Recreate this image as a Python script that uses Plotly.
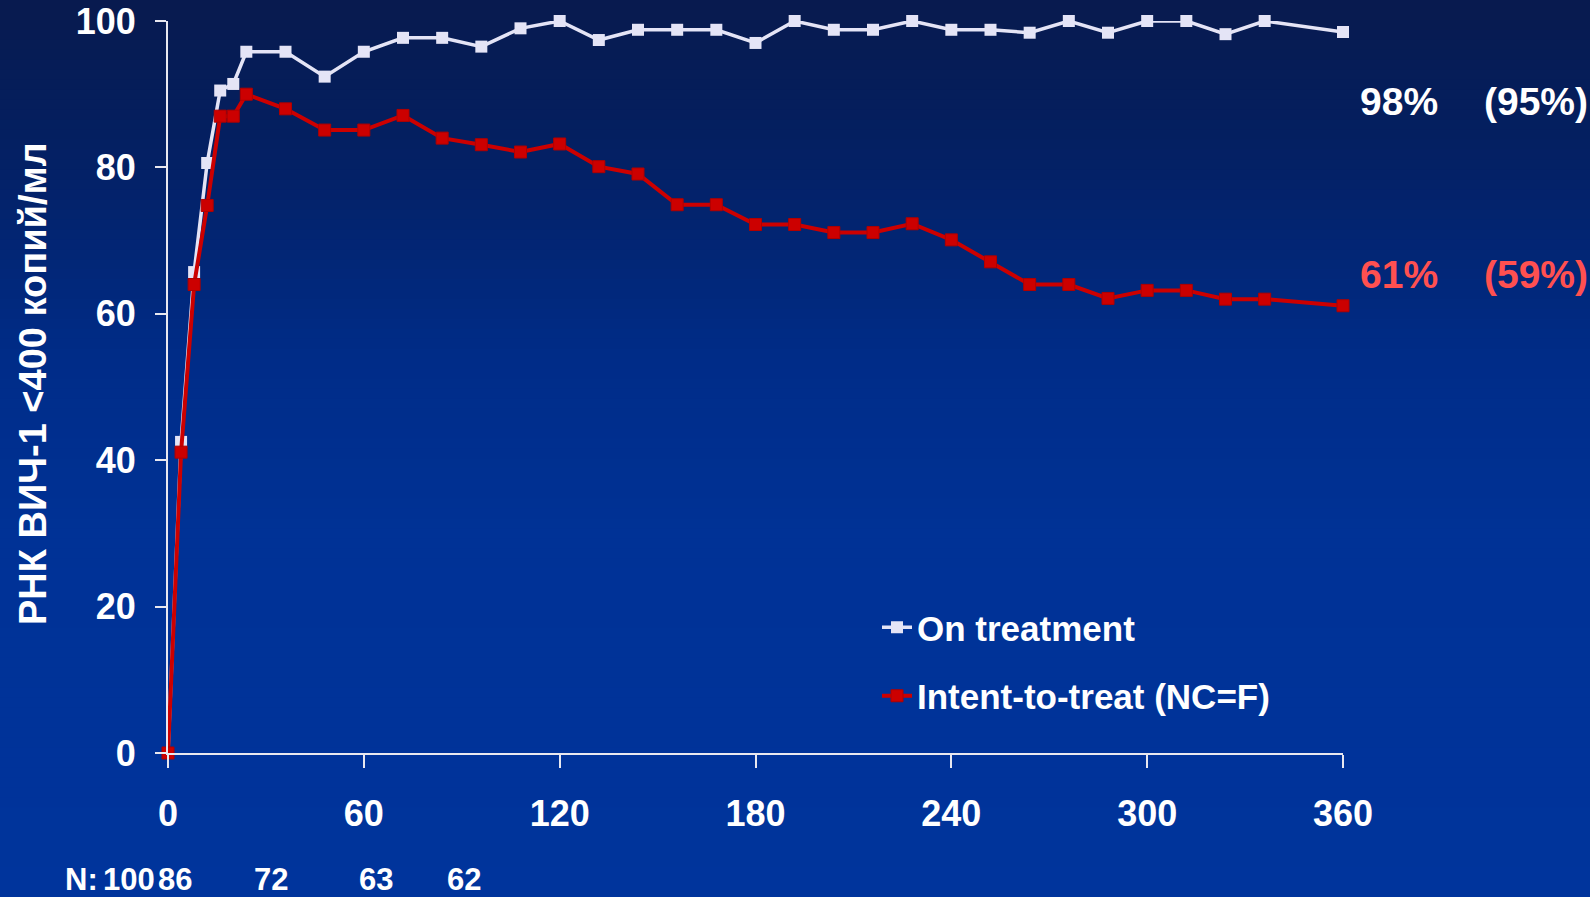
import plotly.graph_objects as go

# ------------------------------------------------------------
# DATA
# ------------------------------------------------------------
DAYS = [0, 4, 8, 12, 16, 20, 24, 36, 48, 60, 72, 84, 96, 108, 120, 132, 144,
        156, 168, 180, 192, 204, 216, 228, 240, 252, 264, 276, 288, 300, 312,
        324, 336, 360]

ON_TREATMENT = [0, 42.5, 65.7, 80.6, 90.5, 91.4, 95.8, 95.8, 92.4, 95.8, 97.7,
                97.7, 96.5, 99.0, 100, 97.4, 98.8, 98.8, 98.8, 97.0, 100, 98.8,
                98.8, 100, 98.8, 98.8, 98.4, 100, 98.4, 100, 100, 98.2, 100, 98.5]

INTENT_TO_TREAT = [0, 41.1, 64.0, 74.8, 87.0, 87.0, 90.0, 88.0, 85.1, 85.1, 87.1,
                   84.0, 83.1, 82.1, 83.2, 80.1, 79.1, 74.9, 74.9, 72.2, 72.2, 71.1,
                   71.1, 72.3, 70.1, 67.1, 64.0, 64.0, 62.1, 63.2, 63.2, 62.0, 62.0, 61.1]

X_TICKS = [0, 60, 120, 180, 240, 300, 360]
Y_TICKS = [0, 20, 40, 60, 80, 100]

SERIES_NAMES = ["On treatment", "Intent-to-treat (NC=F)"]
END_LABELS_ON = ["98%", "(95%)"]
END_LABELS_ITT = ["61%", "(59%)"]
N_COUNTS = ["100", "86", "72", "63", "62"]

Y_TITLE = "РНК ВИЧ-1 <400 копий/мл"

# ------------------------------------------------------------
# STYLE / GEOMETRY
# ------------------------------------------------------------
W, H = 1590, 897
M_L, M_R, M_T, M_B = 168, 247, 21, 144
PW = W - M_L - M_R
PH = H - M_T - M_B

COLOR_WHITE_LINE = "#e4e4f6"
COLOR_RED_LINE = "#cc0000"
COLOR_RED_TEXT = "#ff5050"
FONT = "Liberation Sans, Arial, sans-serif"

# background gradient stops (position from top, rgb)
GRAD_STOPS = [(0.0, (8, 26, 78)), (0.15, (4, 31, 96)), (0.4, (0, 44, 136)),
              (0.6, (0, 50, 150)), (1.0, (0, 52, 156))]


def px_x(px):
    """figure pixel (from left) -> paper x"""
    return (px - M_L) / PW


def px_y(py):
    """figure pixel (from top) -> paper y"""
    return (H - M_B - py) / PH


def grad_color(t):
    for (t0, c0), (t1, c1) in zip(GRAD_STOPS[:-1], GRAD_STOPS[1:]):
        if t0 <= t <= t1:
            f = (t - t0) / (t1 - t0)
            c = [round(a + (b - a) * f) for a, b in zip(c0, c1)]
            return "rgb(%d,%d,%d)" % tuple(c)
    return "rgb(%d,%d,%d)" % GRAD_STOPS[-1][1]


fig = go.Figure()

fig.add_trace(go.Scatter(
    x=DAYS, y=ON_TREATMENT, name=SERIES_NAMES[0], legendgroup="a",
    mode="lines+markers",
    line=dict(color=COLOR_WHITE_LINE, width=3.5),
    marker=dict(symbol="square", size=12, color=COLOR_WHITE_LINE),
    cliponaxis=False
))

fig.add_trace(go.Scatter(
    x=DAYS, y=INTENT_TO_TREAT, name=SERIES_NAMES[1], legendgroup="b",
    mode="lines+markers",
    line=dict(color=COLOR_RED_LINE, width=4),
    marker=dict(symbol="square", size=12, color=COLOR_RED_LINE,
                line=dict(color="#b00000", width=1)),
    cliponaxis=False
))

# gradient background bands
shapes = []
n_bands = 90
for i in range(n_bands):
    y0 = H * i / n_bands
    y1 = H * (i + 1) / n_bands + 1
    shapes.append(dict(
        type="rect", xref="paper", yref="paper", layer="below",
        x0=px_x(0), x1=px_x(W), y0=px_y(y1), y1=px_y(y0),
        fillcolor=grad_color((i + 0.5) / n_bands), line=dict(width=0)
    ))

annotations = []

# y axis title
annotations.append(dict(
    text=Y_TITLE, xref="paper", yref="paper", x=px_x(33), y=px_y(384),
    textangle=-90, showarrow=False, xanchor="center", yanchor="middle",
    font=dict(family=FONT, size=38, color="white", weight="bold")
))

# end-of-line percentages
for labels, py, color in [(END_LABELS_ON, 101, "white"),
                          (END_LABELS_ITT, 274, COLOR_RED_TEXT)]:
    for text, px in zip(labels, [1358, 1482]):
        annotations.append(dict(
            text=text, xref="paper", yref="paper", x=px_x(px), y=px_y(py),
            showarrow=False, xanchor="left", yanchor="middle",
            font=dict(family=FONT, size=39, color=color, weight="bold")
        ))

# N row under the axis
annotations.append(dict(
    text="N:", xref="paper", yref="paper", x=px_x(63), y=px_y(880),
    showarrow=False, xanchor="left", yanchor="middle",
    font=dict(family=FONT, size=31, color="white", weight="bold")
))
for text, px in zip(N_COUNTS, [129, 175, 271, 376, 464]):
    annotations.append(dict(
        text=text, xref="paper", yref="paper", x=px_x(px), y=px_y(880),
        showarrow=False, xanchor="center", yanchor="middle",
        font=dict(family=FONT, size=31, color="white", weight="bold")
    ))

axis_common = dict(
    showgrid=False, zeroline=False, showline=True, automargin=False,
    linecolor="#e8e8f0", linewidth=2,
    ticks="outside", tickcolor="#e8e8f0", tickwidth=2,
    tickfont=dict(family=FONT, size=36, color="white", weight="bold"),
)

fig.update_layout(
    width=W, height=H,
    margin=dict(l=M_L, r=M_R, t=M_T, b=M_B),
    paper_bgcolor="rgb(0,44,136)",
    plot_bgcolor="rgba(0,0,0,0)",
    shapes=shapes,
    annotations=annotations,
    xaxis=dict(**axis_common, range=[0, 360], tickvals=X_TICKS, ticklen=13,
               ticklabelstandoff=15),
    yaxis=dict(**axis_common, range=[0, 100], tickvals=Y_TICKS, ticklen=11,
               ticklabelstandoff=12),
    showlegend=True,
    legend=dict(
        x=px_x(877), y=px_y(598), xanchor="left", yanchor="top",
        bgcolor="rgba(0,0,0,0)", tracegroupgap=20,
        font=dict(family=FONT, size=35, color="white", weight="bold")
    ),
)

# remove the default page margin so the figure fills the window
fig.write_html(
    "out.html",
    config={"displayModeBar": False},
    post_script="document.body.style.margin='0';document.body.style.overflow='hidden';"
)
